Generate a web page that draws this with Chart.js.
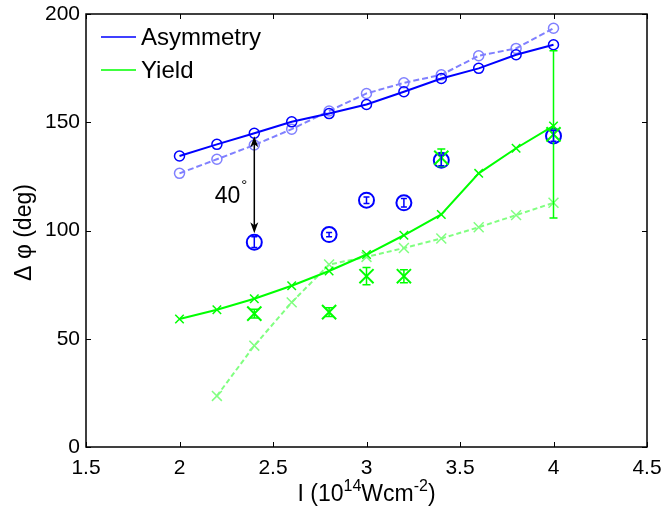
<!DOCTYPE html>
<html>
<head>
<meta charset="utf-8">
<script src="https://cdn.jsdelivr.net/npm/chart.js@4"></script>
<style>
  html, body { margin: 0; padding: 0; background: #fff; }
  canvas { display: block; }
</style>
</head>
<body>
<canvas id="phaseChart" width="665" height="511"></canvas>
<script>
// simulation intensities (1e14 W/cm^2)
const simX = [2.0, 2.2, 2.4, 2.6, 2.8, 3.0, 3.2, 3.4, 3.6, 3.8, 4.0];
const asymSim = [134.4, 139.8, 144.9, 150.2, 154.0, 158.2, 164.1, 170.2, 174.9, 181.2, 185.8];
const asymSimAlt = [126.4, 132.9, 139.5, 146.8, 155.2, 163.3, 168.2, 171.9, 180.7, 184.1, 193.4];
const yieldSim = [59.1, 63.4, 68.5, 74.5, 81.3, 88.9, 97.8, 107.4, 126.4, 138.0, 148.3];
const yieldAltX = [2.2, 2.4, 2.6, 2.8, 3.0, 3.2, 3.4, 3.6, 3.8, 4.0];
const yieldSimAlt = [23.6, 46.8, 66.8, 84.3, 87.8, 91.9, 96.3, 101.5, 107.1, 112.8];

// measured points with error bars
const expX = [2.4, 2.8, 3.0, 3.2, 3.4, 4.0];
const asymExp = [94.6, 98.1, 114.0, 112.8, 132.4, 143.7];
const asymErr = [2.5, 1.0, 1.5, 2.0, 2.5, 2.5];
const yieldExp = [61.6, 62.3, 78.9, 78.9, 133.6, 144.4];
const yieldErr = [2.0, 2.0, 4.0, 3.0, 4.0, 38.6];

const xTicks = [1.5, 2, 2.5, 3, 3.5, 4, 4.5];
const yTicks = [0, 50, 100, 150, 200];
const shiftLabel = '40';

const BLUE = '#0000ff', LBLUE = '#8080ff', GREEN = '#00ff00', LGREEN = '#80ff80';
const FONT = "'Liberation Sans', Arial, sans-serif";

const pts = (xs, ys) => xs.map((x, i) => ({ x: x, y: ys[i] }));

const extras = {
    id: 'extras',
    afterDatasetsDraw(chart) {
        const ctx = chart.ctx;
        const xs = chart.scales.x, ys = chart.scales.y;
        const bars = (vals, errs, color, cap) => {
            ctx.save();
            ctx.strokeStyle = color;
            ctx.lineWidth = 1.5;
            vals.forEach((v, i) => {
                const px = xs.getPixelForValue(expX[i]);
                const top = ys.getPixelForValue(v + errs[i]);
                const bot = ys.getPixelForValue(v - errs[i]);
                ctx.beginPath();
                ctx.moveTo(px, top); ctx.lineTo(px, bot);
                ctx.moveTo(px - cap, top); ctx.lineTo(px + cap, top);
                ctx.moveTo(px - cap, bot); ctx.lineTo(px + cap, bot);
                ctx.stroke();
            });
            ctx.restore();
        };
        bars(yieldExp, yieldErr, GREEN, 4);
        bars(asymExp, asymErr, BLUE, 3);
    },
    afterDraw(chart) {
        const ctx = chart.ctx;
        const a = chart.chartArea;
        const xs = chart.scales.x, ys = chart.scales.y;
        ctx.save();

        // box and inward ticks
        ctx.strokeStyle = '#000';
        ctx.lineWidth = 1.5;
        ctx.strokeRect(a.left, a.top, a.right - a.left, a.bottom - a.top);
        ctx.lineWidth = 1;
        ctx.beginPath();
        xTicks.forEach(t => {
            const px = Math.round(xs.getPixelForValue(t)) + 0.5;
            ctx.moveTo(px, a.bottom); ctx.lineTo(px, a.bottom - 5);
            ctx.moveTo(px, a.top); ctx.lineTo(px, a.top + 5);
        });
        yTicks.forEach(t => {
            const py = Math.round(ys.getPixelForValue(t)) + 0.5;
            ctx.moveTo(a.left, py); ctx.lineTo(a.left + 5, py);
            ctx.moveTo(a.right, py); ctx.lineTo(a.right - 5, py);
        });
        ctx.stroke();

        // double arrow between simulated and measured asymmetry at 2.4
        const ax = xs.getPixelForValue(expX[0]);
        const yTop = ys.getPixelForValue(asymSim[2]) + 3;
        const yBot = ys.getPixelForValue(asymExp[0]) - 9;
        ctx.strokeStyle = '#000';
        ctx.fillStyle = '#000';
        ctx.lineWidth = 1.5;
        ctx.beginPath();
        ctx.moveTo(ax, yTop + 6); ctx.lineTo(ax, yBot - 6);
        ctx.stroke();
        const head = (tipY, dir) => {
            ctx.beginPath();
            ctx.moveTo(ax, tipY);
            ctx.lineTo(ax - 4, tipY + dir * 11);
            ctx.lineTo(ax, tipY + dir * 8);
            ctx.lineTo(ax + 4, tipY + dir * 11);
            ctx.closePath();
            ctx.fill();
        };
        head(yTop, 1);
        head(yBot, -1);

        const midY = (yTop + yBot) / 2;
        ctx.font = '23px ' + FONT;
        ctx.textAlign = 'right';
        ctx.textBaseline = 'middle';
        ctx.fillText(shiftLabel, ax - 14, midY + 12);
        ctx.font = '15px ' + FONT;
        ctx.textAlign = 'left';
        ctx.fillText('\u00B0', ax - 13, midY + 1);

        // legend
        const legend = [['Asymmetry', BLUE], ['Yield', GREEN]];
        legend.forEach((item, i) => {
            const ly = a.top + 23 + i * 33;
            ctx.strokeStyle = item[1];
            ctx.lineWidth = 1.5;
            ctx.beginPath();
            ctx.moveTo(a.left + 15, ly); ctx.lineTo(a.left + 50, ly);
            ctx.stroke();
            ctx.fillStyle = '#000';
            ctx.font = '24px ' + FONT;
            ctx.textAlign = 'left';
            ctx.textBaseline = 'middle';
            ctx.fillText(item[0], a.left + 55, ly + 1);
        });

        // x axis title with superscripts
        const parts = [['I (10', 23, 0], ['14', 16, -10], ['Wcm', 23, 0], ['-2', 16, -10], [')', 23, 0]];
        ctx.textBaseline = 'alphabetic';
        let total = 0;
        parts.forEach(p => { ctx.font = p[1] + 'px ' + FONT; total += ctx.measureText(p[0]).width; });
        let tx = (a.left + a.right) / 2 - total / 2;
        const base = 501;
        parts.forEach(p => {
            ctx.font = p[1] + 'px ' + FONT;
            ctx.fillStyle = '#000';
            ctx.textAlign = 'left';
            ctx.fillText(p[0], tx, base + p[2]);
            tx += ctx.measureText(p[0]).width;
        });

        // y axis title
        ctx.translate(25, (a.top + a.bottom) / 2 + 2);
        ctx.rotate(-Math.PI / 2);
        ctx.font = '23px ' + FONT;
        ctx.textAlign = 'center';
        ctx.textBaseline = 'middle';
        ctx.fillText('\u0394 \u03C6 (deg)', 0, 0);
        ctx.restore();
    }
};

new Chart(document.getElementById('phaseChart'), {
    type: 'line',
    data: {
        datasets: [
            {
                label: 'Asymmetry',
                data: pts(simX, asymSim),
                borderColor: BLUE, backgroundColor: 'rgba(0,0,0,0)',
                borderWidth: 2,
                pointStyle: 'circle', pointRadius: 5, pointBorderWidth: 1.5,
                pointBorderColor: BLUE, pointBackgroundColor: 'rgba(0,0,0,0)'
            },
            {
                label: 'Asymmetry (alt)',
                data: pts(simX, asymSimAlt),
                borderColor: LBLUE, backgroundColor: 'rgba(0,0,0,0)',
                borderWidth: 2, borderDash: [6, 3],
                pointStyle: 'circle', pointRadius: 5, pointBorderWidth: 1.5,
                pointBorderColor: LBLUE, pointBackgroundColor: 'rgba(0,0,0,0)'
            },
            {
                label: 'Yield',
                data: pts(simX, yieldSim),
                borderColor: GREEN, backgroundColor: 'rgba(0,0,0,0)',
                borderWidth: 2,
                pointStyle: 'crossRot', pointRadius: 6, pointBorderWidth: 1.5,
                pointBorderColor: GREEN
            },
            {
                label: 'Yield (alt)',
                data: pts(yieldAltX, yieldSimAlt),
                borderColor: LGREEN, backgroundColor: 'rgba(0,0,0,0)',
                borderWidth: 2, borderDash: [5, 3],
                pointStyle: 'crossRot', pointRadius: 7, pointBorderWidth: 1.5,
                pointBorderColor: LGREEN
            },
            {
                label: 'Yield (exp)',
                data: pts(expX, yieldExp),
                showLine: false,
                pointStyle: 'crossRot', pointRadius: 10, pointBorderWidth: 2,
                pointBorderColor: GREEN, backgroundColor: 'rgba(0,0,0,0)'
            },
            {
                label: 'Asymmetry (exp)',
                data: pts(expX, asymExp),
                showLine: false,
                pointStyle: 'circle', pointRadius: 7.5, pointBorderWidth: 2,
                pointBorderColor: BLUE, pointBackgroundColor: 'rgba(0,0,0,0)',
                backgroundColor: 'rgba(0,0,0,0)'
            }
        ]
    },
    options: {
        responsive: false,
        animation: false,
        layout: { padding: { top: 14, right: 18, left: 0, bottom: 0 } },
        plugins: {
            legend: { display: false },
            tooltip: { enabled: false }
        },
        scales: {
            x: {
                type: 'linear', min: 1.5, max: 4.5,
                afterBuildTicks: s => { s.ticks = xTicks.map(v => ({ value: v })); },
                ticks: {
                    color: '#000', font: { family: FONT, size: 21 }, padding: 1, maxRotation: 0,
                    callback: v => String(v)
                },
                grid: { display: false },
                border: { display: false },
                afterFit: s => { s.height = 64; }
            },
            y: {
                min: 0, max: 200,
                afterBuildTicks: s => { s.ticks = yTicks.map(v => ({ value: v })); },
                ticks: {
                    color: '#000', font: { family: FONT, size: 21 }, padding: -2,
                    callback: v => String(v)
                },
                grid: { display: false },
                border: { display: false },
                afterFit: s => { s.width = 86; }
            }
        }
    },
    plugins: [extras]
});
</script>
</body>
</html>
